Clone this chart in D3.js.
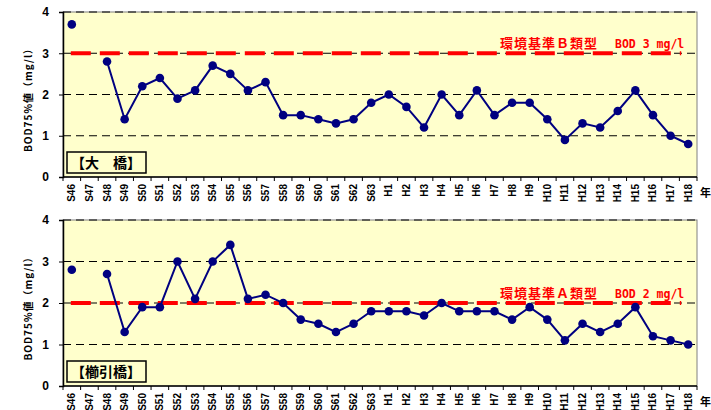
<!DOCTYPE html>
<html>
<head>
<meta charset="utf-8">
<script src="https://cdn.jsdelivr.net/npm/d3@7/dist/d3.min.js"></script>
<style>
  body { margin: 0; background: #fff; }
  svg { display: block; }
  text { font-family: "Liberation Sans", Arial, sans-serif; font-weight: bold; }
  .jp { font-family: "Noto Sans CJK JP", sans-serif; font-weight: bold; }
  .mono { font-family: "DejaVu Sans Mono", monospace; font-weight: bold; }
</style>
</head>
<body>
<script>
// categories (fiscal years)
var years = ["S46","S47","S48","S49","S50","S51","S52","S53","S54","S55","S56","S57","S58","S59","S60","S61","S62","S63",
             "H1","H2","H3","H4","H5","H6","H7","H8","H9","H10","H11","H12","H13","H14","H15","H16","H17","H18"];

// BOD 75% values (mg/l), null = no data
var ohashi = [3.7,null,2.8,1.4,2.2,2.4,1.9,2.1,2.7,2.5,2.1,2.3,1.5,1.5,1.4,1.3,1.4,1.8,
              2.0,1.7,1.2,2.0,1.5,2.1,1.5,1.8,1.8,1.4,0.9,1.3,1.2,1.6,2.1,1.5,1.0,0.8];
var kushibiki = [2.8,null,2.7,1.3,1.9,1.9,3.0,2.1,3.0,3.4,2.1,2.2,2.0,1.6,1.5,1.3,1.5,1.8,
                 1.8,1.8,1.7,2.0,1.8,1.8,1.8,1.6,1.9,1.6,1.1,1.5,1.3,1.5,1.9,1.2,1.1,1.0];

var yTicks = [0, 1, 2, 3, 4];
var stations = ["【大　橋】", "【櫛引橋】"];
var standards = [3, 2];
var standardNames = ["環境基準Ｂ類型", "環境基準Ａ類型"];
var standardValues = ["BOD 3 mg/l", "BOD 2 mg/l"];

var svg = d3.select("body").append("svg")
    .attr("width", 711)
    .attr("height", 410);

var x = d3.scaleBand()
    .domain(years)
    .range([63, 697]);

var panels = [
    {top: 12, bottom: 177, values: ohashi},
    {top: 220, bottom: 386, values: kushibiki}
];

panels.forEach(function (p, i) {
    var y = d3.scaleLinear().domain([0, 4]).range([p.bottom, p.top]);
    var g = svg.append("g");
    var cx = function (d) { return x(d) + x.bandwidth() / 2; };

    // plot area
    g.append("rect")
        .attr("x", 63).attr("y", p.top)
        .attr("width", 634).attr("height", p.bottom - p.top)
        .attr("fill", "#FFFFCC")
        .attr("stroke", "#808080")
        .attr("stroke-width", 1);

    // gridlines
    g.selectAll(".grid")
        .data(yTicks.slice(1))
        .enter().append("line")
        .attr("x1", 63).attr("x2", 697)
        .attr("y1", function (d) { return y(d); })
        .attr("y2", function (d) { return y(d); })
        .attr("stroke", "#000")
        .attr("stroke-width", 1)
        .attr("stroke-dasharray", "8,5");

    // y axis
    var yAxis = d3.axisLeft(y).tickValues(yTicks).tickFormat(d3.format("d")).tickSize(4).tickPadding(10);
    var ya = g.append("g").attr("transform", "translate(63,0)").call(yAxis);
    ya.select(".domain").attr("stroke", "#000").attr("stroke-width", 1.5);
    ya.selectAll("text").attr("font-size", 12);

    // x axis: ticks at category boundaries
    g.append("line")
        .attr("x1", 63).attr("x2", 697)
        .attr("y1", p.bottom).attr("y2", p.bottom)
        .attr("stroke", "#000").attr("stroke-width", 1.5);
    g.selectAll(".xt")
        .data(years.concat(["end"]))
        .enter().append("line")
        .attr("x1", function (d, k) { return 63 + k * x.bandwidth(); })
        .attr("x2", function (d, k) { return 63 + k * x.bandwidth(); })
        .attr("y1", p.bottom).attr("y2", p.bottom + 4)
        .attr("stroke", "#000");
    g.selectAll(".xl")
        .data(years)
        .enter().append("text")
        .attr("transform", function (d) { return "translate(" + (cx(d) + 3.5) + "," + (p.bottom + 7) + ") rotate(-90)"; })
        .attr("text-anchor", "end")
        .attr("font-size", 10)
        .text(function (d) { return d; });

    g.append("text")
        .attr("class", "jp")
        .attr("x", 700).attr("y", p.bottom + 20)
        .attr("font-size", 11)
        .text("年");

    // y axis title
    g.append("text")
        .attr("class", "jp")
        .attr("transform", "translate(32," + ((p.top + p.bottom) / 2 + 3) + ") rotate(-90)")
        .attr("text-anchor", "middle")
        .attr("font-size", 10)
        .attr("letter-spacing", 1)
        .text("BOD75%値（mg/l）");

    // environmental standard line
    g.append("line")
        .attr("x1", cx(years[0]) - 1).attr("x2", cx(years[years.length - 1]) - 7)
        .attr("y1", y(standards[i])).attr("y2", y(standards[i]))
        .attr("stroke", "#FF0000")
        .attr("stroke-width", 4)
        .attr("stroke-dasharray", "20,9");
    var lbl = g.append("text")
        .attr("y", y(standards[i]) - 5)
        .attr("fill", "#FF0000");
    lbl.append("tspan")
        .attr("class", "jp")
        .attr("x", 500)
        .attr("font-size", 13)
        .attr("letter-spacing", 1)
        .text(standardNames[i]);
    lbl.append("tspan")
        .attr("class", "mono")
        .attr("x", 615)
        .attr("font-size", 11.5)
        .text(standardValues[i]);

    // series line
    var line = d3.line()
        .defined(function (d) { return d != null; })
        .x(function (d, k) { return cx(years[k]); })
        .y(function (d) { return y(d); });
    g.append("path")
        .datum(p.values)
        .attr("d", line)
        .attr("fill", "none")
        .attr("stroke", "#000080")
        .attr("stroke-width", 2);
    g.selectAll(".pt")
        .data(p.values.map(function (v, k) { return {v: v, k: k}; }).filter(function (d) { return d.v != null; }))
        .enter().append("circle")
        .attr("cx", function (d) { return cx(years[d.k]); })
        .attr("cy", function (d) { return y(d.v); })
        .attr("r", 4.3)
        .attr("fill", "#000080");

    // station box
    var by = p.bottom - 25;
    g.append("rect")
        .attr("x", 67).attr("y", by)
        .attr("width", 79).attr("height", 21)
        .attr("fill", "#FFFFCC")
        .attr("stroke", "#000")
        .attr("stroke-width", 1.5);
    g.append("text")
        .attr("class", "jp")
        .attr("x", 106).attr("y", by + 16)
        .attr("text-anchor", "middle")
        .attr("font-size", 14)
        .text(stations[i]);
});
</script>
</body>
</html>
